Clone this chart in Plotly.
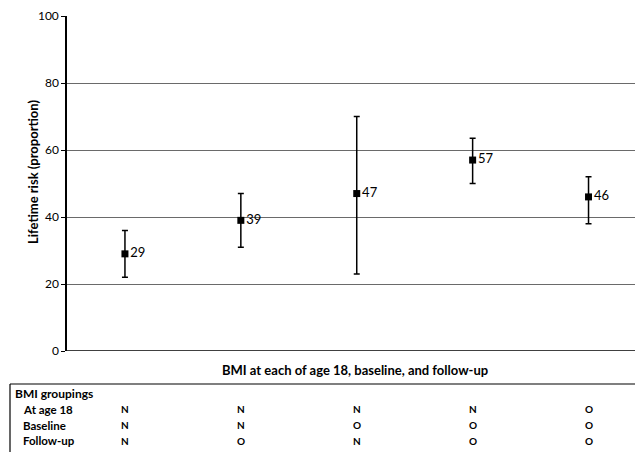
import plotly.graph_objects as go

categories = ["NNN", "NNO", "NON", "NOO", "OOO"]
risk = [29, 39, 47, 57, 46]
ci_low = [22, 31, 23, 50, 38]
ci_high = [36, 47, 70, 63.5, 52]
row_labels = ["At age 18", "Baseline", "Follow-up"]
at_age18 = ["N", "N", "N", "N", "O"]
baseline = ["N", "N", "O", "O", "O"]
followup = ["N", "O", "N", "O", "O"]
y_ticks = [0, 20, 40, 60, 80, 100]

FONT = "Lato"
OFF = 8  # default page body margin
W, H = 643 - OFF, 452 - OFF
ML, MR, MT, MB = 67 - OFF, 0, 16 - OFF, 101
PW, PH = W - ML - MR, H - MT - MB

def py(p):  # target pixel y -> paper y
    return (H - MB - (p - OFF)) / PH

def px(p):  # target pixel x -> paper x
    return ((p - OFF) - ML) / PW

xs = list(range(len(categories)))
fig = go.Figure()
fig.add_trace(go.Scatter(
    x=xs, y=risk, mode="markers+text",
    marker=dict(symbol="square", size=7, color="black"),
    text=[str(v) for v in risk], textposition="middle right",
    textfont=dict(family=FONT, size=13, color="black"),
    error_y=dict(type="data", symmetric=False,
                 array=[h - v for h, v in zip(ci_high, risk)],
                 arrayminus=[v - l for v, l in zip(risk, ci_low)],
                 color="black", thickness=1.5, width=3),
    cliponaxis=False, showlegend=False,
))

fig.update_layout(
    width=W, height=H, margin=dict(l=ML, r=MR, t=MT, b=MB),
    paper_bgcolor="white", plot_bgcolor="white",
    font=dict(family=FONT, color="black"),
    xaxis=dict(range=[-0.5, 4.47], showticklabels=False, showgrid=False,
               zeroline=False, showline=False, fixedrange=True),
    yaxis=dict(range=[0, 100], tickvals=y_ticks, showgrid=True, gridcolor="#6a6a6a",
               gridwidth=1, zeroline=False, showline=True, linecolor="black",
               linewidth=1.5, ticks="outside", ticklen=4, tickcolor="black",
               tickfont=dict(family=FONT, size=12, color="black")),
)
fig.add_shape(type="line", xref="paper", yref="y", x0=0, x1=1.02, y0=0, y1=0,
              line=dict(color="black", width=1.5))

ann = []
ann.append(dict(text="<b>Lifetime risk (proportion)</b>", xref="paper", yref="paper",
                x=px(33), y=py(172), textangle=-90, showarrow=False,
                xanchor="center", yanchor="middle", font=dict(family=FONT, size=13)))
ann.append(dict(text="<b>BMI at each of age 18, baseline, and follow-up</b>",
                xref="paper", yref="paper", x=px(355), y=py(370),
                showarrow=False, font=dict(family=FONT, size=13), xanchor="center", yanchor="middle"))
ann.append(dict(text="<b>BMI groupings</b>", xref="paper", yref="paper",
                x=px(13), y=py(393), showarrow=False, xanchor="left", yanchor="middle",
                font=dict(family=FONT, size=12)))
rows = [at_age18, baseline, followup]
for i, (lab, vals) in enumerate(zip(row_labels, rows)):
    yy = py(409 + 16 * i)
    ann.append(dict(text="<b>" + lab + "</b>", xref="paper", yref="paper", x=px(21), y=yy,
                    showarrow=False, xanchor="left", yanchor="middle",
                    font=dict(family=FONT, size=11.5)))
    for j, v in enumerate(vals):
        ann.append(dict(text="<b>" + v + "</b>", xref="x", yref="paper", x=xs[j], y=yy,
                        showarrow=False, xanchor="center", yanchor="middle",
                        font=dict(family=FONT, size=10)))
fig.update_layout(annotations=ann)

fig.add_shape(type="line", xref="paper", yref="paper", x0=px(10), x1=1.02,
              y0=py(384), y1=py(384), line=dict(color="black", width=1.2))
fig.add_shape(type="line", xref="paper", yref="paper", x0=px(10), x1=px(10),
              y0=py(384), y1=py(452), line=dict(color="black", width=1.2))

fig.write_html("out.html")
